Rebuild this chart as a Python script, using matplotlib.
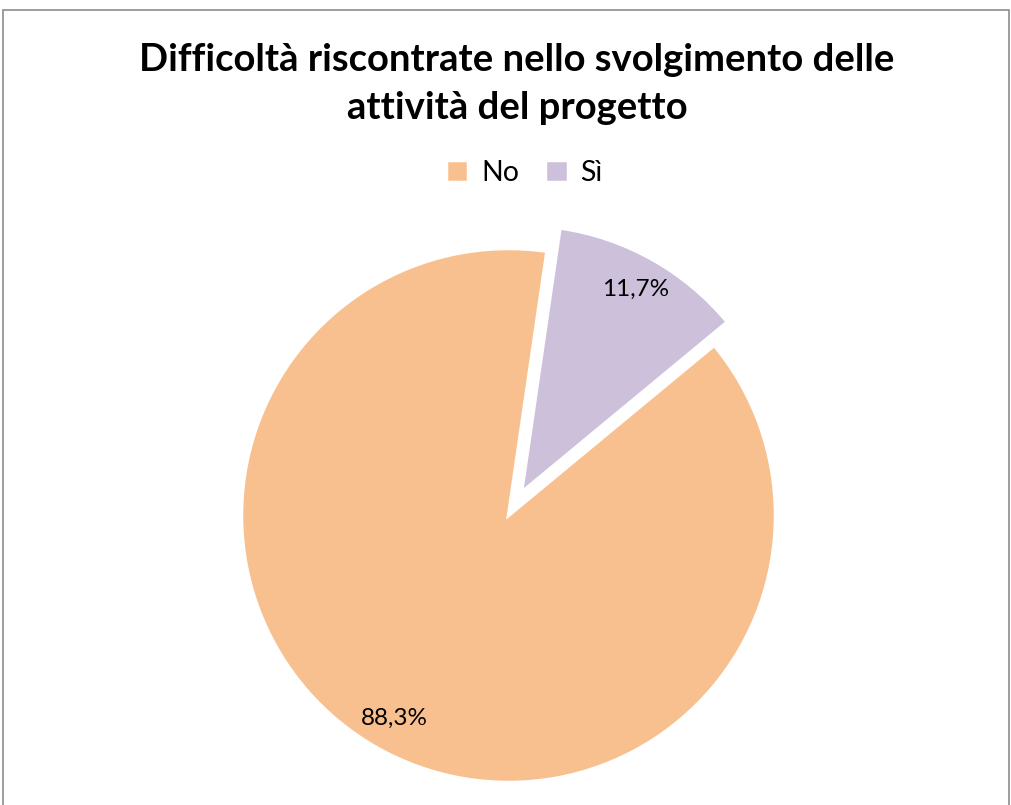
import matplotlib
matplotlib.use("Agg")
import matplotlib.pyplot as plt
from matplotlib.patches import Rectangle

categories = ["No", "Sì"]
values = [88.3, 11.7]
colors = ["#F9C08F", "#CCC0DA"]
title = "Difficoltà riscontrate nello svolgimento delle\nattività del progetto"

plt.rcParams['font.family'] = ['Lato', 'DejaVu Sans']

W, H = 1012, 805
fig = plt.figure(figsize=(W / 100, H / 100), dpi=100)
fig.patch.set_facecolor("white")

# border
fig.add_artist(Rectangle((3 / W, -0.01), 1006 / W, 1 - 10 / H + 0.01,
                         transform=fig.transFigure, fill=False,
                         edgecolor="#8c8c8c", linewidth=1.2))

cx, cy, R = 508.5, 515.5, 267
S = 640
ax = fig.add_axes([(cx - S / 2) / W, 1 - (cy + S / 2) / H, S / W, S / H])

def fmt(p):
    return f"{p:.1f}".replace(".", ",") + "%"

wedges, texts, autotexts = ax.pie(
    values, colors=colors, explode=[0, 0.1], startangle=39.6,
    counterclock=False, autopct=fmt, pctdistance=0.87,
    wedgeprops=dict(edgecolor="white", linewidth=2.5),
    textprops=dict(fontsize=17.5, color="black"))
L = (S / 2) / R
ax.set_xlim(-L, L)
ax.set_ylim(-L, L)
ax.set_aspect("auto")
ax.axis("off")

fig.text(0.511, 1 - 84 / H, title, ha="center", va="center",
         fontsize=27.5, fontweight="bold", linespacing=1.5)

fig.legend(wedges, categories, loc="center", bbox_to_anchor=(0.518, 1 - 173 / H),
           ncol=2, frameon=False, fontsize=20.5, handlelength=0.8, handleheight=0.8,
           handletextpad=0.45, columnspacing=0.9)

fig.savefig("out.png", dpi=100)
